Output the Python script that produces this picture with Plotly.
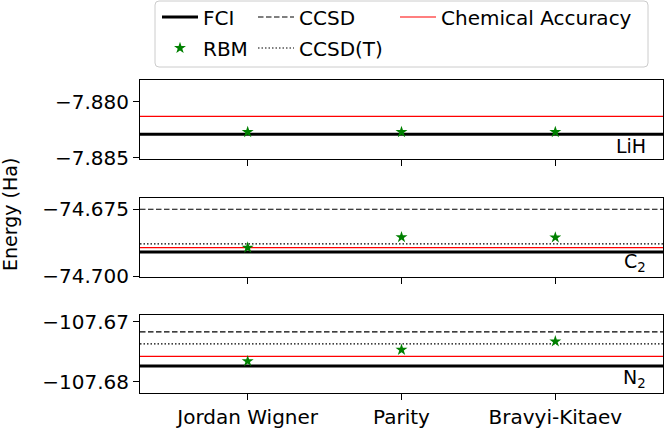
import plotly.graph_objects as go
from plotly.subplots import make_subplots

# ---------------- data ----------------
mappings = ["Jordan Wigner", "Parity", "Bravyi-Kitaev"]
molecules = ["LiH", "C<sub>2</sub>", "N<sub>2</sub>"]

fci = [-7.8829, -74.6909, -107.6774]
chem_acc = [-7.8813, -74.6893, -107.6758]
ccsd = [None, -74.6750, -107.6717]
ccsd_t = [None, -74.6879, -107.6737]

rbm_lih = [-7.8827, -7.8827, -7.8827]
rbm_c2 = [-74.6893, -74.6854, -74.6855]
rbm_n2 = [-107.6766, -107.6747, -107.6733]
rbm = [rbm_lih, rbm_c2, rbm_n2]

ytick_vals = [[-7.880, -7.885], [-74.675, -74.700], [-107.67, -107.68]]
ytick_text = [["\u22127.880", "\u22127.885"], ["\u221274.675", "\u221274.700"], ["\u2212107.67", "\u2212107.68"]]
y_ranges = [[-7.88512, -7.87803], [-74.70005, -74.6708], [-107.6819, -107.6689]]

FONT = "DejaVu Sans"
W, H = 664, 428
ML, MR, MT, MB = 140, 1, 80, 35
pw, ph = W - ML - MR, H - MT - MB


def px2x(p):
    return (p - ML) / pw


def py2y(p):
    return (H - MB - p) / ph


fig = make_subplots(rows=3, cols=1, shared_xaxes=False, vertical_spacing=0.05)
domains = [[0.7476, 1.0], [0.3722, 0.623], [0.0, 0.2492]]

for i in range(3):
    r = i + 1
    fig.add_trace(go.Scatter(x=mappings, y=rbm[i], mode="markers",
                             marker=dict(symbol="star", size=9, color="#008000"),
                             showlegend=False), row=r, col=1)
    fig.add_hline(y=chem_acc[i], line=dict(color="#ff0000", width=1.2), layer="below", row=r, col=1)
    if ccsd[i] is not None:
        fig.add_hline(y=ccsd[i], line=dict(color="black", width=1.2, dash="5.5px,2.5px"), layer="below", row=r, col=1)
    if ccsd_t[i] is not None:
        fig.add_hline(y=ccsd_t[i], line=dict(color="black", width=1.2, dash="1.5px,2px"), layer="below", row=r, col=1)
    fig.add_hline(y=fci[i], line=dict(color="black", width=3), layer="below", row=r, col=1)
    ax = "" if r == 1 else str(r)
    fig.update_layout(**{
        "xaxis" + ax: dict(domain=[0, 1], range=[-0.7, 2.7], type="category",
                           showline=True, mirror=True, linecolor="black", linewidth=1,
                           ticks="outside", ticklen=6, tickwidth=1, tickcolor="black",
                           showgrid=False, zeroline=False, showticklabels=(r == 3),
                           tickfont=dict(size=20, family=FONT, color="black")),
        "yaxis" + ax: dict(domain=domains[i], range=y_ranges[i],
                           tickvals=ytick_vals[i], ticktext=ytick_text[i],
                           showline=True, mirror=True, linecolor="black", linewidth=1,
                           ticks="outside", ticklen=6, tickwidth=1, tickcolor="black",
                           showgrid=False, zeroline=False,
                           tickfont=dict(size=20, family=FONT, color="black")),
    })
    fig.add_annotation(text=molecules[i], xref="x" + ax + " domain", yref="y" + ax + " domain",
                       x=0.972, y=0.0, xanchor="right", yanchor="bottom", showarrow=False,
                       font=dict(size=19, family=FONT, color="black"))

# legend entries (dummy traces)
legend_items = [
    ("FCI", dict(mode="lines", line=dict(color="black", width=3)), "legend", 157, 17),
    ("RBM", dict(mode="markers", marker=dict(symbol="star", size=9, color="#008000")), "legend2", 157, 48),
    ("CCSD", dict(mode="lines", line=dict(color="black", width=1.2, dash="5.5px,2.5px")), "legend3", 253, 17),
    ("CCSD(T)", dict(mode="lines", line=dict(color="black", width=1.2, dash="1.5px,2px")), "legend4", 253, 48),
    ("Chemical Accuracy", dict(mode="lines", line=dict(color="#ff0000", width=1.2)), "legend5", 395, 17),
]
for name, style, lg, px, py in legend_items:
    fig.add_trace(go.Scatter(x=[None], y=[None], name=name, showlegend=True, legend=lg,
                             xaxis="x", yaxis="y", **style))
    fig.update_layout(**{lg: dict(xref="paper", yref="paper", x=px2x(px), y=py2y(py),
                                  xanchor="left", yanchor="middle", bgcolor="rgba(0,0,0,0)",
                                  borderwidth=0, itemwidth=36,
                                  font=dict(size=20, family=FONT, color="black"))})

# legend frame
x0, x1, y0, y1 = px2x(155), px2x(648), py2y(67), py2y(1)
rx, ry = 4 / pw, 4 / ph
path = (f"M{x0+rx},{y0} L{x1-rx},{y0} Q{x1},{y0} {x1},{y0+ry} L{x1},{y1-ry} Q{x1},{y1} {x1-rx},{y1} "
        f"L{x0+rx},{y1} Q{x0},{y1} {x0},{y1-ry} L{x0},{y0+ry} Q{x0},{y0} {x0+rx},{y0} Z")
fig.add_shape(type="path", path=path, xref="paper", yref="paper",
              line=dict(color="#cccccc", width=1), fillcolor="rgba(0,0,0,0)", layer="below")

# y title
fig.add_annotation(text="Energy (Ha)", xref="paper", yref="paper", x=px2x(10), y=py2y(215),
                   textangle=-90, showarrow=False, xanchor="center", yanchor="middle",
                   font=dict(size=19, family=FONT, color="black"))

fig.update_layout(width=W, height=H, margin=dict(l=ML, r=MR, t=MT, b=MB, autoexpand=False),
                  plot_bgcolor="white", paper_bgcolor="white",
                  font=dict(family=FONT, color="black"))

fig.write_html("out.html", config={"displayModeBar": False},
               post_script="document.body.style.margin='0';document.body.style.overflow='hidden';")
